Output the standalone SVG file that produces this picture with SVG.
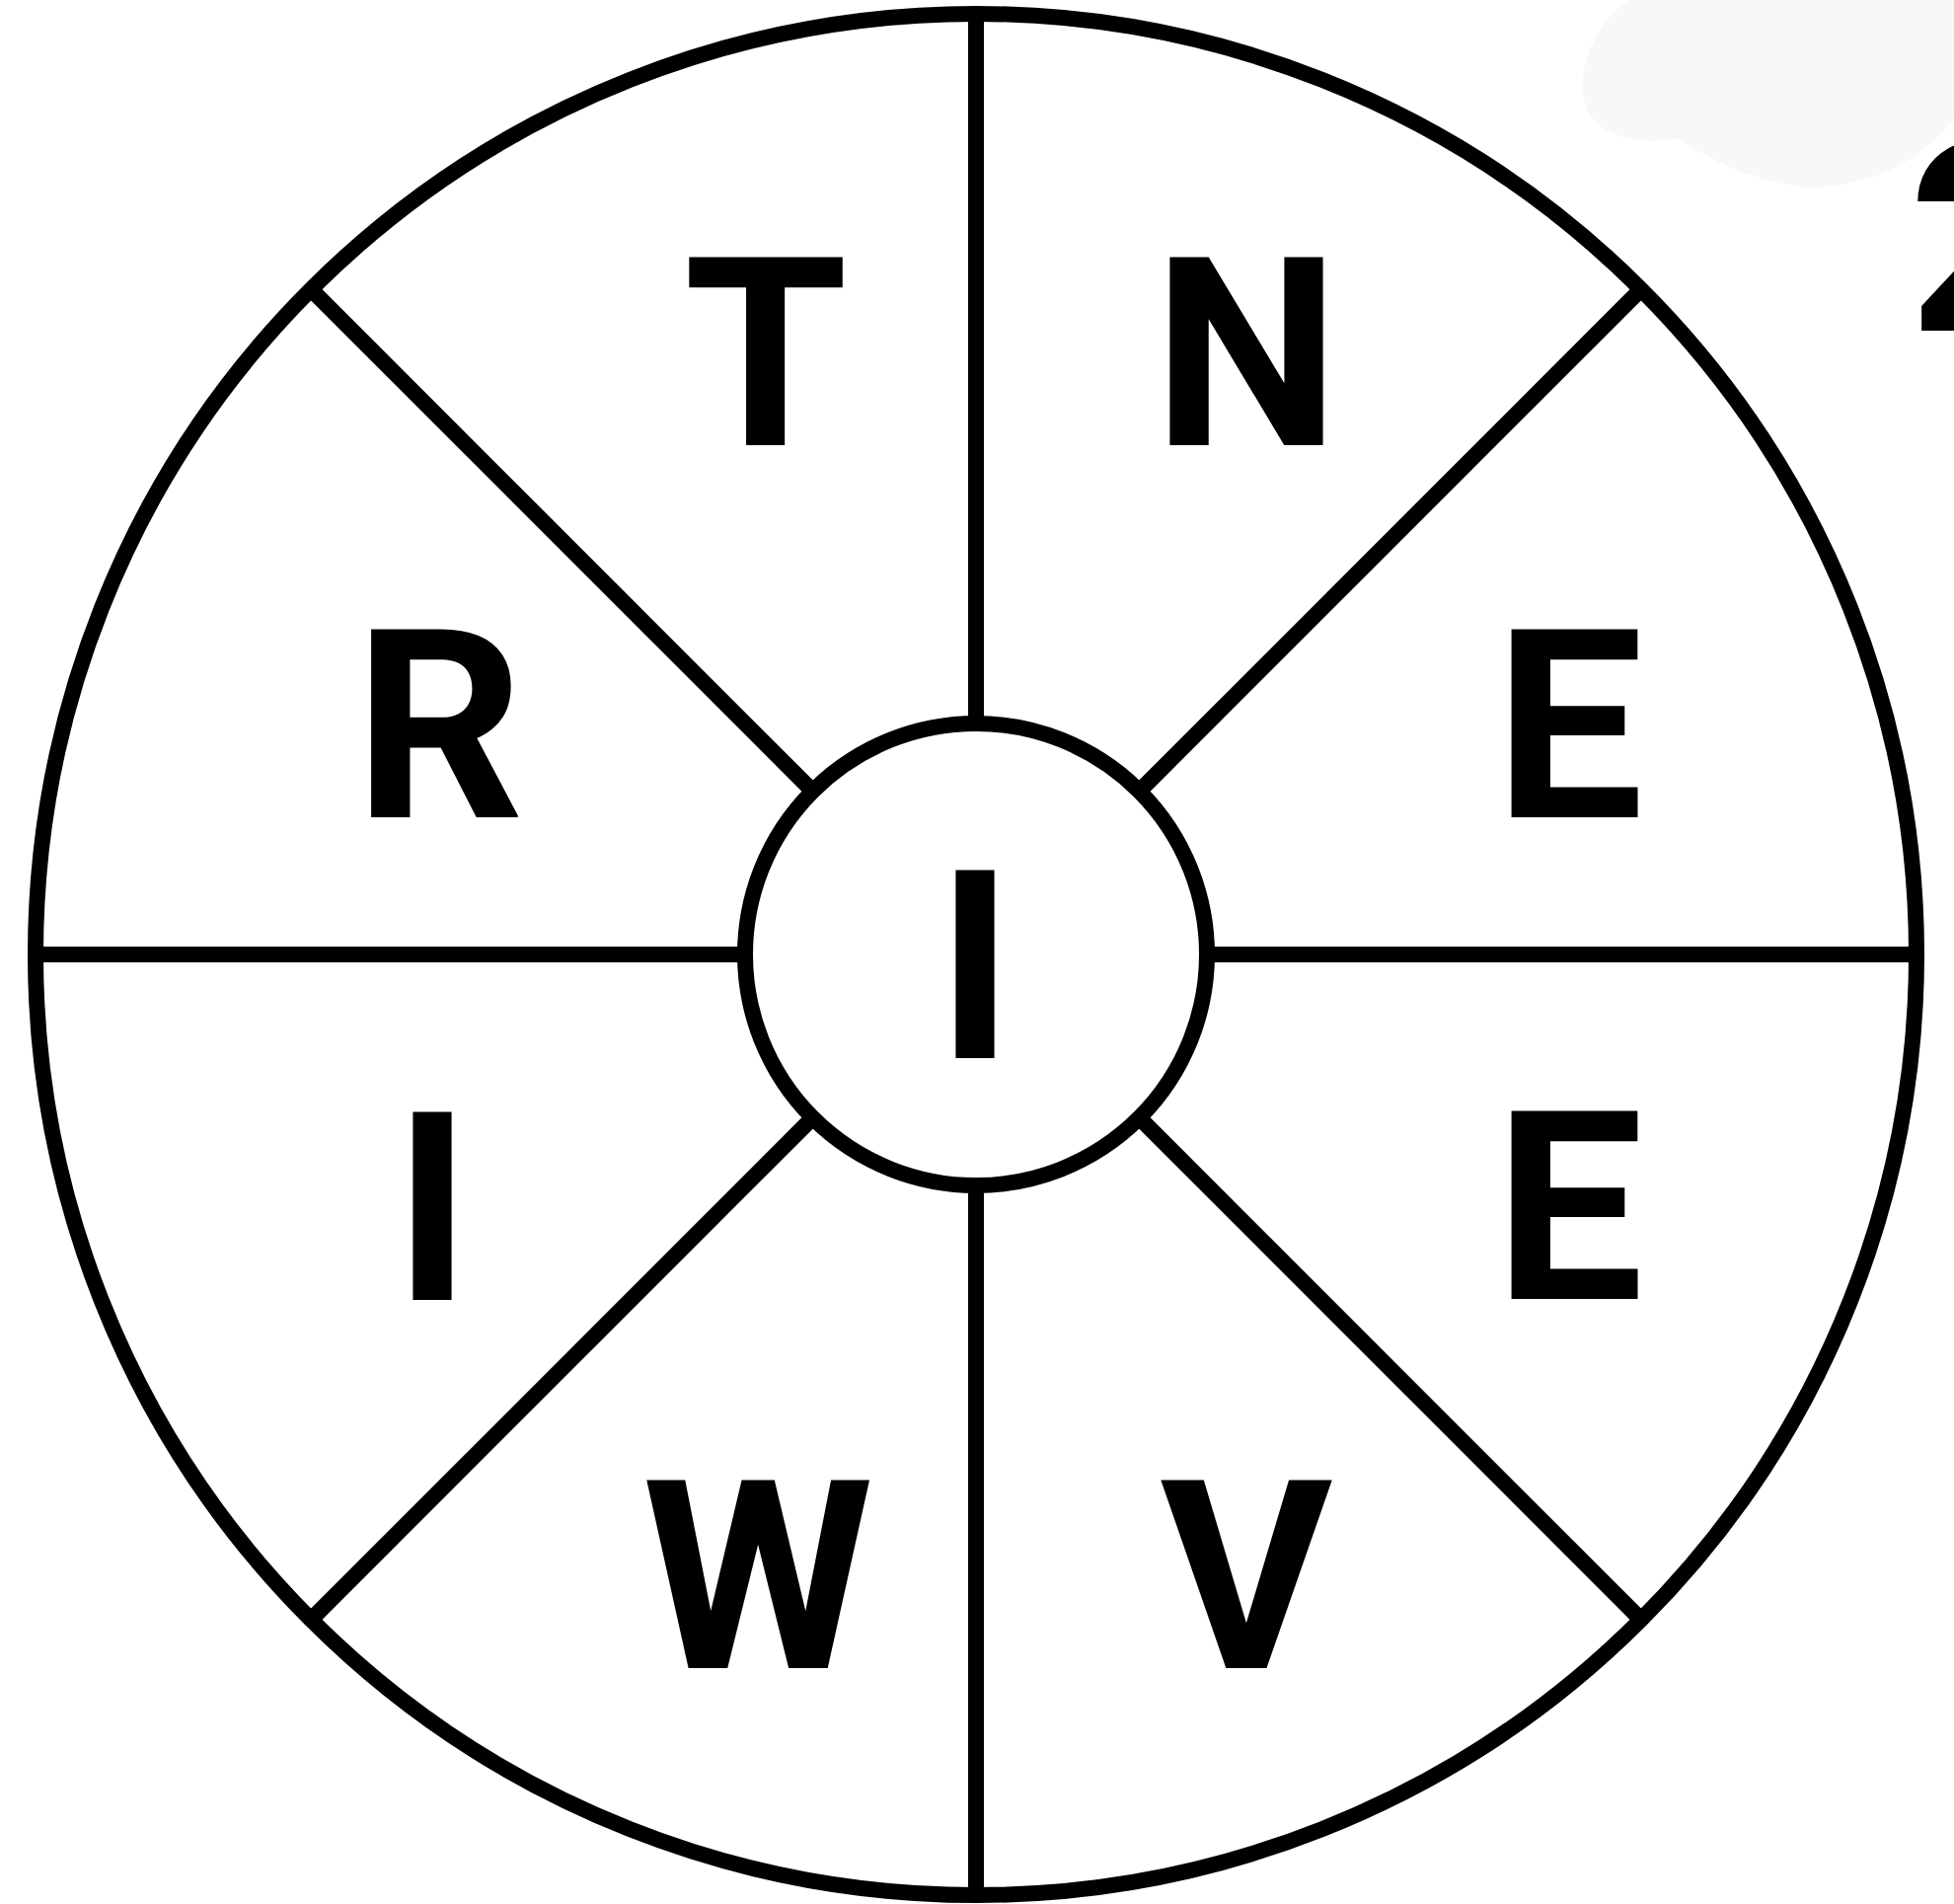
<svg xmlns="http://www.w3.org/2000/svg" width="1980" height="1929" viewBox="0 0 1980 1929">
<style>
.ln{stroke:#000;stroke-width:16;fill:none}
.lt{font-family:Roboto,"Liberation Sans",Arial,sans-serif;font-weight:bold;font-size:268px;fill:#000;text-anchor:middle}
</style>
<rect width="1980" height="1929" fill="#fff"/>
<path d="M1650 0 C1635 12,1622 25,1614 45 C1603 65,1600 95,1610 115 C1620 132,1645 142,1670 143 C1685 143,1695 140,1702 141 C1730 160,1770 182,1830 190 C1890 190,1940 170,1980 120 L1980 0 Z" fill="#f8f8f8"/>
<text class="lt" x="1934" y="335" style="text-anchor:start">2</text>
<g id="connectors">
<line class="ln" x1="989" y1="14" x2="989" y2="733"/>
<line class="ln" x1="989" y1="1201" x2="989" y2="1920"/>
<line class="ln" x1="36" y1="967" x2="755" y2="967"/>
<line class="ln" x1="1223" y1="967" x2="1942" y2="967"/>
<line class="ln" x1="315" y1="293" x2="824" y2="802"/>
<line class="ln" x1="1663" y1="293" x2="1154" y2="802"/>
<line class="ln" x1="315" y1="1641" x2="824" y2="1132"/>
<line class="ln" x1="1663" y1="1641" x2="1154" y2="1132"/>
</g>
<g id="outer-circle"><circle class="ln" cx="989" cy="967" r="953"/></g>
<g id="center"><circle class="ln" cx="989" cy="967" r="234" fill="#fff"/><text class="lt" x="988" y="1072">I</text></g>
<g id="seg-T"><text class="lt" x="776" y="451">T</text></g>
<g id="seg-N"><text class="lt" x="1263" y="451">N</text></g>
<g id="seg-R"><text class="lt" x="445" y="828">R</text></g>
<g id="seg-E1"><text class="lt" x="1590" y="828">E</text></g>
<g id="seg-I"><text class="lt" x="438" y="1317">I</text></g>
<g id="seg-E2"><text class="lt" x="1590" y="1316">E</text></g>
<g id="seg-W"><text class="lt" x="768" y="1690">W</text></g>
<g id="seg-V"><text class="lt" x="1263" y="1690">V</text></g>
</svg>
